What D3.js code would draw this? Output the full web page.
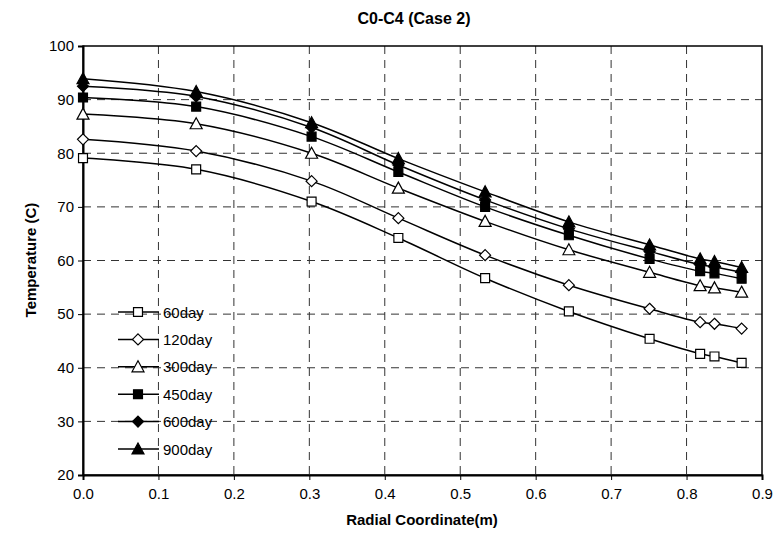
<!DOCTYPE html>
<html>
<head>
<meta charset="utf-8">
<script src="https://cdn.jsdelivr.net/npm/d3@7"></script>
<style>
  html, body { margin: 0; padding: 0; background: #fff; }
  svg { display: block; font-family: Arial, "Liberation Sans", sans-serif; }
</style>
</head>
<body>
<svg id="chart" width="777" height="544"></svg>
<script>
// Radial positions (m) of the sample points
const radial = [0, 0.15, 0.303, 0.418, 0.533, 0.644, 0.751, 0.818, 0.837, 0.873];

// Temperature (C) per time step
const t60  = [79.1, 77.0, 71.0, 64.2, 56.7, 50.5, 45.4, 42.6, 42.1, 40.9];
const t120 = [82.6, 80.4, 74.8, 67.9, 61.0, 55.4, 51.0, 48.5, 48.2, 47.3];
const t300 = [87.3, 85.5, 80.0, 73.5, 67.3, 62.0, 57.8, 55.3, 54.9, 54.1];
const t450 = [90.4, 88.7, 83.1, 76.5, 70.0, 64.7, 60.3, 58.0, 57.6, 56.6];
const t600 = [92.5, 90.6, 84.8, 77.8, 71.3, 65.9, 61.7, 59.2, 58.8, 57.8];
const t900 = [93.9, 91.5, 85.7, 79.0, 72.8, 67.2, 62.9, 60.3, 59.8, 58.7];

const seriesNames = ["60day", "120day", "300day", "450day", "600day", "900day"];
const seriesValues = [t60, t120, t300, t450, t600, t900];
const markerKinds = ["square", "diamond", "triangle", "square", "diamond", "triangle"];
const markerFilled = [false, false, false, true, true, true];

const xTicks = [0, 0.1, 0.2, 0.3, 0.4, 0.5, 0.6, 0.7, 0.8, 0.9];
const yTicks = [20, 30, 40, 50, 60, 70, 80, 90, 100];

const chartTitle = "C0-C4 (Case 2)";
const xTitle = "Radial Coordinate(m)";
const yTitle = "Temperature (C)";

const svg = d3.select("#chart");
const pLeft = 83, pRight = 762, pTop = 46, pBottom = 475;

const x = d3.scaleLinear().domain([0, 0.9]).range([pLeft, pRight]);
const y = d3.scaleLinear().domain([20, 100]).range([pBottom, pTop]);

// Grid
const grid = svg.append("g");
grid.selectAll("line.h").data(yTicks.slice(1, -1)).join("line")
  .attr("x1", pLeft).attr("x2", pRight)
  .attr("y1", d => y(d)).attr("y2", d => y(d))
  .attr("stroke", "#333").attr("stroke-width", 1).attr("stroke-dasharray", "8,6");
grid.selectAll("line.v").data(xTicks.slice(1, -1)).join("line")
  .attr("y1", pTop).attr("y2", pBottom)
  .attr("x1", d => x(d)).attr("x2", d => x(d))
  .attr("stroke", "#333").attr("stroke-width", 1).attr("stroke-dasharray", "8,6");

// Plot frame
svg.append("rect").attr("x", pLeft).attr("y", pTop)
  .attr("width", pRight - pLeft).attr("height", pBottom - pTop)
  .attr("fill", "none").attr("stroke", "#000").attr("stroke-width", 1.5);

// Axes
const xAxis = svg.append("g").attr("transform", `translate(0,${pBottom})`)
  .call(d3.axisBottom(x).tickValues(xTicks).tickFormat(d3.format(".1f")).tickSizeOuter(0).tickSize(5).tickPadding(8));
const yAxis = svg.append("g").attr("transform", `translate(${pLeft},0)`)
  .call(d3.axisLeft(y).tickValues(yTicks).tickSizeOuter(0).tickSize(5).tickPadding(4));
[xAxis, yAxis].forEach(a => {
  a.select(".domain").attr("stroke", "#000").attr("stroke-width", 2);
  a.selectAll(".tick line").attr("stroke", "#000").attr("stroke-width", 1);
  a.selectAll(".tick text").attr("fill", "#000").attr("font-size", 15)
    .attr("font-family", "Arial, 'Liberation Sans', sans-serif");
});

// Marker shapes
function markerPath(kind) {
  if (kind === "square") return d3.symbol(d3.symbolSquare, 80)();
  if (kind === "diamond") return "M0,-5.5L5.5,0L0,5.5L-5.5,0Z";
  return "M0,-6L6,5L-6,5Z";
}

const line = d3.line().x(d => x(d[0])).y(d => y(d[1])).curve(d3.curveCatmullRom.alpha(0.5));

const plot = svg.append("g");
seriesValues.forEach((vals, i) => {
  const pts = radial.map((r, k) => [r, vals[k]]);
  plot.append("path").datum(pts).attr("d", line)
    .attr("fill", "none").attr("stroke", "#000").attr("stroke-width", 1.5);
});
seriesValues.forEach((vals, i) => {
  const pts = radial.map((r, k) => [r, vals[k]]);
  plot.selectAll(null).data(pts).join("path")
    .attr("transform", d => `translate(${x(d[0])},${y(d[1])})`)
    .attr("d", markerPath(markerKinds[i]))
    .attr("fill", markerFilled[i] ? "#000" : "#fff")
    .attr("stroke", "#000").attr("stroke-width", 1.2);
});

// Legend
const legend = svg.append("g");
seriesNames.forEach((name, i) => {
  const ly = 312 + i * 27.4;
  legend.append("line").attr("x1", 118).attr("x2", 159).attr("y1", ly).attr("y2", ly)
    .attr("stroke", "#000").attr("stroke-width", 1.5);
  legend.append("path").attr("transform", `translate(138,${ly})`)
    .attr("d", markerPath(markerKinds[i]))
    .attr("fill", markerFilled[i] ? "#000" : "#fff")
    .attr("stroke", "#000").attr("stroke-width", 1.2);
  legend.append("text").attr("x", 163).attr("y", ly + 5.5)
    .attr("font-size", 15).text(name);
});

// Titles
svg.append("text").attr("x", 414).attr("y", 24).attr("text-anchor", "middle")
  .attr("font-size", 16).attr("font-weight", "bold").text(chartTitle);
svg.append("text").attr("x", 422).attr("y", 525).attr("text-anchor", "middle")
  .attr("font-size", 15).attr("font-weight", "bold").text(xTitle);
svg.append("text").attr("transform", `translate(36,260) rotate(-90)`).attr("text-anchor", "middle")
  .attr("font-size", 15).attr("font-weight", "bold").text(yTitle);
</script>
</body>
</html>
